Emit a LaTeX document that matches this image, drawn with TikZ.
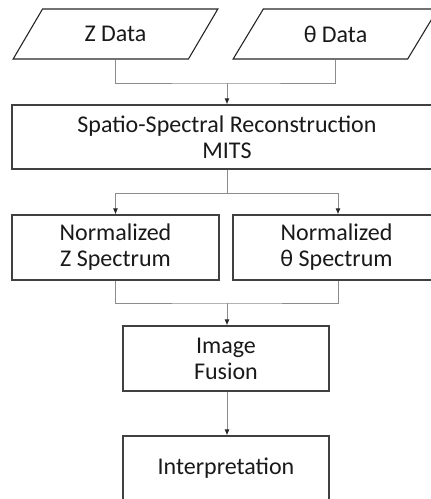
\documentclass[tikz,border=0pt]{standalone}
\usepackage{fontspec}
\setmainfont{Carlito}
\usepackage{tikz}
\usetikzlibrary{shapes.geometric, arrows.meta}

\begin{document}
\begin{tikzpicture}[x=1pt, y=-1pt,
    box/.style={draw=black!75, line width=1.1pt, rectangle, align=center, font=\fontsize{24}{26}\selectfont, text=black!90},
    data/.style={draw=black!85, line width=1.1pt, trapezium, trapezium left angle=51.3, trapezium right angle=128.7, trapezium stretches=true, minimum width=205pt, minimum height=50pt, inner sep=0pt, font=\fontsize{24}{26}\selectfont, text=black!90},
    flow/.style={draw=black!45, line width=1pt},
    >={Latex[length=6pt, width=5pt, color=black!85]}]
    \useasboundingbox (0,0) rectangle (431,499);

    % Dữ liệu vào
    \node[data] (zdata) at (115.5,34) {Z Data};
    \node[data] (tdata) at (335.5,34) {θ Data};

    % Các khối xử lý
    \node[box, minimum width=430pt, minimum height=64pt] (recon) at (227,137) {Spatio-Spectral Reconstruction\\MITS};
    \node[box, minimum width=207pt, minimum height=65pt] (nz) at (115.5,247.5) {Normalized\\Z Spectrum};
    \node[box, minimum width=207pt, minimum height=65pt] (nt) at (336.5,247.5) {Normalized\\θ Spectrum};
    \node[box, minimum width=206pt, minimum height=65pt] (fusion) at (226,358.5) {Image\\Fusion};
    \node[box, minimum width=206pt, minimum height=65pt] (interp) at (226,468.5) {Interpretation};

    % Điểm nối
    \coordinate (j1) at (227,83);
    \coordinate (j2) at (227,193);
    \coordinate (j3) at (227,303);

    % Đường nối
    \draw[flow] (zdata.south) |- (j1) -| (tdata.south);
    \draw[flow, ->] (j1) -- (recon.north);
    \draw[flow] (recon.south) -- (j2);
    \draw[flow, ->] (j2) -| (nz.north);
    \draw[flow, ->] (j2) -| ([xshift=1.5pt]nt.north);
    \draw[flow] (nz.south) |- (j3) -| ([xshift=1.5pt]nt.south);
    \draw[flow, ->] (j3) -- (fusion.north -| j3);
    \draw[flow, ->] (fusion.south -| j3) -- (interp.north -| j3);
\end{tikzpicture}
\end{document}
